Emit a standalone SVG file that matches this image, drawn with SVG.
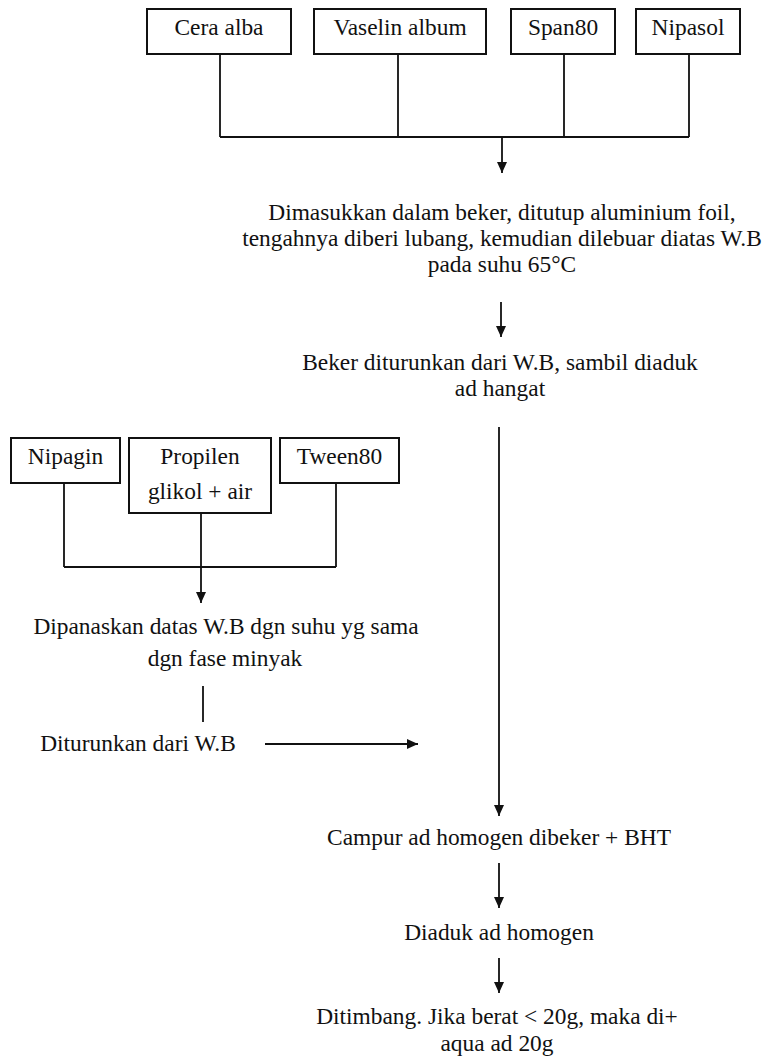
<svg xmlns="http://www.w3.org/2000/svg" width="766" height="1060" viewBox="0 0 766 1060">
<defs>
<style>
text{font-family:'Liberation Serif','DejaVu Serif',serif;font-size:23.4px;fill:#111;text-anchor:middle}
.box{fill:#fff;stroke:#111;stroke-width:2}
.ln{fill:none;stroke:#111;stroke-width:1.8}
</style>
<marker id="ah" markerUnits="userSpaceOnUse" markerWidth="12" markerHeight="12" refX="11" refY="5" orient="auto">
<path d="M0,0 L11,5 L0,10 Z" fill="#111"/>
</marker>
</defs>
<rect width="766" height="1060" fill="#fff"/>
<g id="cera-alba"><rect class="box" x="147" y="9" width="144" height="45"/><text x="219" y="35">Cera alba</text></g>
<g id="vaselin-album"><rect class="box" x="314" y="9" width="172" height="45"/><text x="400" y="35">Vaselin album</text></g>
<g id="span80"><rect class="box" x="511" y="9" width="104" height="45"/><text x="563" y="35">Span80</text></g>
<g id="nipasol"><rect class="box" x="636" y="9" width="104" height="45"/><text x="688" y="35">Nipasol</text></g>
<g id="step-melt"><text x="502" y="220">Dimasukkan dalam beker, ditutup aluminium foil,</text><text x="502" y="246">tengahnya diberi lubang, kemudian dilebuar diatas W.B</text><text x="502" y="272">pada suhu 65°C</text></g>
<g id="step-cool"><text x="500" y="370">Beker diturunkan dari W.B, sambil diaduk</text><text x="500" y="396">ad hangat</text></g>
<g id="nipagin"><rect class="box" x="11" y="438" width="109" height="45"/><text x="65.5" y="464">Nipagin</text></g>
<g id="propilen"><rect class="box" x="129" y="438" width="142" height="75"/><text x="200" y="464">Propilen</text><text x="200" y="499">glikol + air</text></g>
<g id="tween80"><rect class="box" x="280" y="438" width="119" height="45"/><text x="339.5" y="464">Tween80</text></g>
<g id="step-heat"><text x="226" y="634">Dipanaskan datas W.B dgn suhu yg sama</text><text x="225" y="666">dgn fase minyak</text></g>
<g id="step-remove"><text x="138" y="751">Diturunkan dari W.B</text></g>
<g id="step-mix"><text x="499" y="845">Campur ad homogen dibeker + BHT</text></g>
<g id="step-stir"><text x="499" y="940">Diaduk ad homogen</text></g>
<g id="step-weigh"><text x="497" y="1024">Ditimbang. Jika berat &lt; 20g, maka di+</text><text x="497" y="1051">aqua ad 20g</text></g>
<g id="connectors">
<path class="ln" d="M220,54 V137 M398,54 V137 M564,54 V137 M689,54 V137 M220,137 H689"/>
<path class="ln" d="M502,137 V173" marker-end="url(#ah)"/>
<path class="ln" d="M501,302 V337" marker-end="url(#ah)"/>
<path class="ln" d="M64,483 V567 M201,513 V567 M336,483 V567 M64,567 H336"/>
<path class="ln" d="M201,567 V603" marker-end="url(#ah)"/>
<path class="ln" d="M203,686 V722"/>
<path class="ln" d="M265,744 H418" marker-end="url(#ah)"/>
<path class="ln" d="M499,427 V816" marker-end="url(#ah)"/>
<path class="ln" d="M499,863 V908" marker-end="url(#ah)"/>
<path class="ln" d="M499,958 V993" marker-end="url(#ah)"/>
</g>
</svg>
